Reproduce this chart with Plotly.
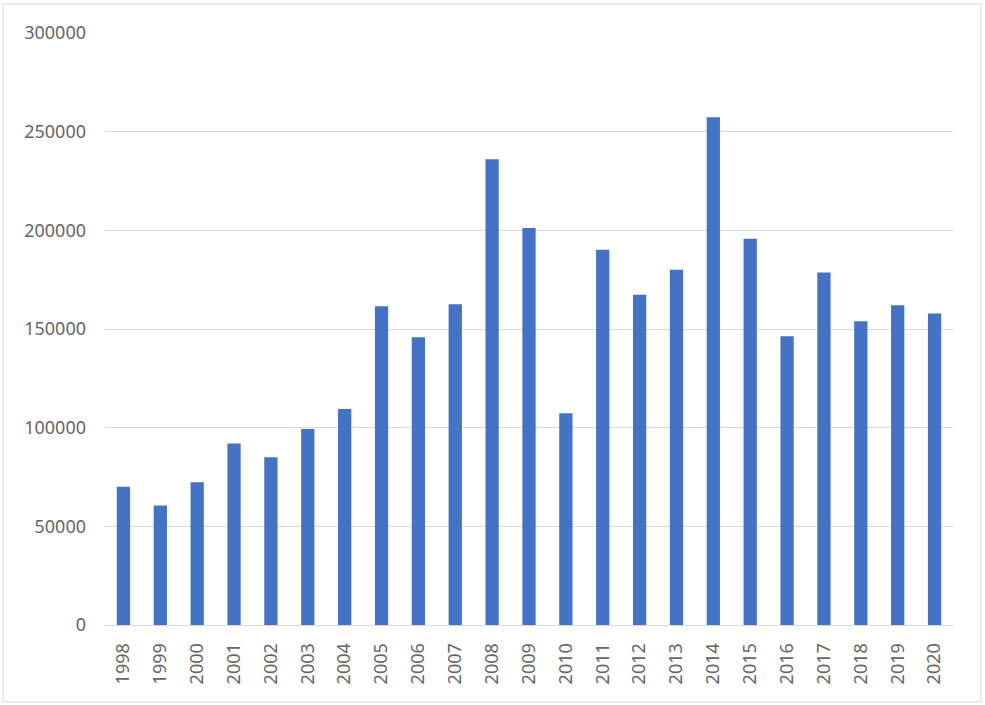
import plotly.graph_objects as go

years = [str(y) for y in range(1998, 2021)]
values = [70000, 60500, 72300, 92000, 85000, 99300, 109500, 161500, 145800, 162500,
          236000, 201200, 107300, 190200, 167400, 180000, 257300, 195700, 146300, 178600,
          153900, 162000, 157900]

fig = go.Figure(go.Bar(x=years, y=values, marker_color="#4472C4", marker_line_width=0))

L, R, T, B = 105, 32, 33, 80
W, H = 985, 705
pw, ph = W - L - R, H - T - B

fig.update_layout(
    width=W, height=H,
    margin=dict(l=L, r=R, t=T, b=B),
    paper_bgcolor="white", plot_bgcolor="white",
    bargap=0.64,
    showlegend=False,
    font=dict(family="Noto Sans, Open Sans, sans-serif", size=18, color="#666666"),
    xaxis=dict(type="category", tickangle=-90, showgrid=False, showline=True,
               linecolor="#d9d9d9", linewidth=1, ticks="", ticklabelstandoff=10,
               tickfont=dict(size=18, color="#666666")),
    yaxis=dict(range=[0, 300000], dtick=50000, showgrid=True, gridcolor="#d9d9d9",
               gridwidth=1, zeroline=False, showline=False, ticks="",
               tickformat="d", ticklabelstandoff=18,
               tickfont=dict(size=18, color="#666666")),
    shapes=[dict(type="rect", xref="paper", yref="paper",
                 x0=(3 - L) / pw, x1=(981 - L) / pw,
                 y0=(H - B - 702) / ph, y1=(H - B - 4) / ph,
                 line=dict(color="#d9d9d9", width=1), fillcolor="rgba(0,0,0,0)",
                 layer="below")],
)

fig.write_html("out.html", config={"displayModeBar": False},
               post_script="document.body.style.margin='0';")
